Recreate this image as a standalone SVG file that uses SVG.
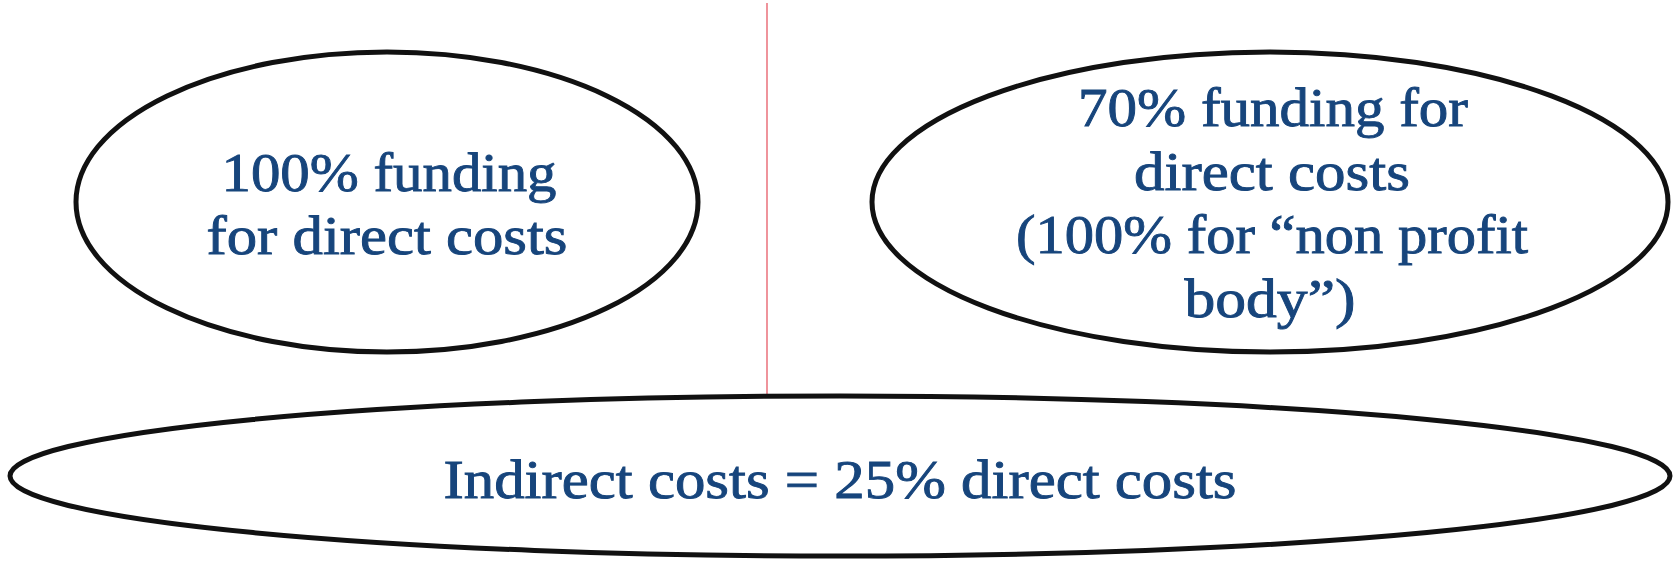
<svg xmlns="http://www.w3.org/2000/svg" width="1674" height="562" viewBox="0 0 1674 562">
<style>
.node ellipse{fill:#fff;stroke:#111;stroke-width:5}
.lbl{font-family:"Liberation Serif","DejaVu Serif",serif;font-size:54px;fill:#17457c;stroke:#17457c;stroke-width:0.9;text-anchor:middle}
</style>
<rect width="1674" height="562" fill="#fff"/>
<g id="connectors">
<line x1="767" y1="3" x2="767" y2="396" stroke="#e65a66" stroke-width="1.3"/>
</g>
<g id="node-left" class="node">
<ellipse cx="387" cy="202" rx="311" ry="150"/>
<text class="lbl" x="389" y="191" textLength="335" lengthAdjust="spacingAndGlyphs">100% funding</text>
<text class="lbl" x="387" y="254" textLength="361" lengthAdjust="spacingAndGlyphs">for direct costs</text>
</g>
<g id="node-right" class="node">
<ellipse cx="1270" cy="202" rx="398" ry="150"/>
<text class="lbl" x="1273" y="126" textLength="390" lengthAdjust="spacingAndGlyphs">70% funding for</text>
<text class="lbl" x="1272" y="190" textLength="276" lengthAdjust="spacingAndGlyphs">direct costs</text>
<text class="lbl" x="1272" y="253" textLength="512" lengthAdjust="spacingAndGlyphs">(100% for “non profit</text>
<text class="lbl" x="1270" y="317" textLength="171" lengthAdjust="spacingAndGlyphs">body”)</text>
</g>
<g id="node-bottom" class="node">
<ellipse cx="840" cy="476" rx="830" ry="80"/>
<text class="lbl" x="840" y="498" textLength="793" lengthAdjust="spacingAndGlyphs">Indirect costs = 25% direct costs</text>
</g>
</svg>
